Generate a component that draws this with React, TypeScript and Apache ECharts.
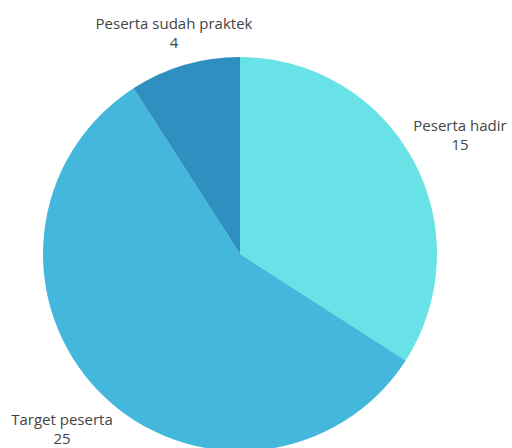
import React, { useEffect, useRef } from "react";
import * as echarts from "echarts";

const categories = ["Peserta hadir", "Target peserta", "Peserta sudah praktek"];
const values = [15, 25, 4];
const colors = ["#68e2e6", "#44b8dc", "#2f8fc0"];
const labelPos = [
  { x: 460, y: 134 },
  { x: 62, y: 428 },
  { x: 174, y: 32 },
];

export default function App() {
  const ref = useRef<HTMLDivElement>(null);
  useEffect(() => {
    const chart = echarts.init(ref.current!, null, { renderer: "svg" });
    chart.setOption({
      animation: false,
      series: [
        {
          type: "pie",
          center: [240, 254],
          radius: 197,
          startAngle: 90,
          clockwise: true,
          data: categories.map((c, i) => ({
            name: c,
            value: values[i],
            itemStyle: { color: colors[i] },
          })),
          label: {
            show: true,
            formatter: "{b}\n{c}",
            color: "#444",
            fontFamily: "Open Sans",
            fontSize: 15,
            lineHeight: 19,
            align: "center",
            overflow: "none",
            width: 300,
          },
          labelLine: { show: false },
          labelLayout: (p: any) => ({
            x: labelPos[p.dataIndex].x,
            y: labelPos[p.dataIndex].y,
            align: "center",
            verticalAlign: "middle",
            width: 300,
          }),
          itemStyle: { borderWidth: 0 },
        },
      ],
    });
    return () => chart.dispose();
  }, []);
  return (
    <div
      ref={ref}
      style={{ width: 512, height: 448, position: "absolute", left: 0, top: 0 }}
    />
  );
}
